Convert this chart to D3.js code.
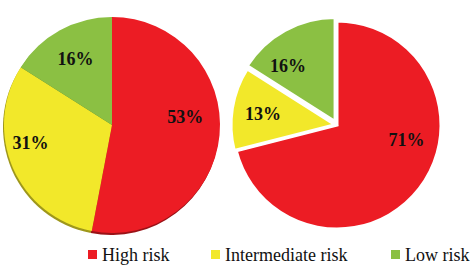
<!DOCTYPE html>
<html>
<head>
<meta charset="utf-8">
<script src="https://cdn.jsdelivr.net/npm/d3@7"></script>
<style>
  body { margin: 0; background: #fff; }
  svg { display: block; }
  text { font-family: 'Liberation Serif', 'Times New Roman', serif; }
</style>
</head>
<body>
<div id="chart"></div>
<script>
/* global d3 */

const categories = [ 'High risk', 'Intermediate risk', 'Low risk' ]
const colors = [ '#ec1c24', '#f2e82a', '#8bc043' ]
const leftValues = [ 53, 31, 16 ]
const rightValues = [ 71, 13, 16 ]

const width = 475
const height = 266

const svg = d3.select('#chart').append('svg').attr('width', width).attr('height', height)

// label nudges to mimic the spreadsheet's "best fit" placement
const leftNudge = [ [ -2, -15 ], [ -12, -12 ], [ 0, 0 ] ]
const rightNudge = [ [ 12, -30 ], [ 0, 0 ], [ -12, 8 ] ]

function drawPie ({ values, cx, cy, r, explode, shadow, nudge }) {
  const pie = d3.pie().sort(null).value(d => d)
  const arcs = pie(values)
  const arc = d3.arc().innerRadius(0).outerRadius(r)
  const labelArc = d3.arc().innerRadius(r * 0.7).outerRadius(r * 0.7)
  const g = svg.append('g').attr('transform', `translate(${cx},${cy})`)

  const offset = (d, i) => {
    const k = explode[i]
    const a = (d.startAngle + d.endAngle) / 2
    return [ Math.sin(a) * k, -Math.cos(a) * k ]
  }

  if (shadow) {
    g.append('g').attr('transform', 'translate(-1,2)')
      .selectAll('path')
      .data(arcs)
      .join('path')
      .attr('d', arc)
      .attr('fill', (d, i) => d3.color(colors[i]).darker(1.2))
  }

  g.append('g')
    .selectAll('path')
    .data(arcs)
    .join('path')
    .attr('d', arc)
    .attr('transform', (d, i) => `translate(${offset(d, i)})`)
    .attr('fill', (d, i) => colors[i])
    .attr('stroke', shadow ? 'none' : '#fff')
    .attr('stroke-width', shadow ? 0 : 3)

  g.append('g')
    .selectAll('text')
    .data(arcs)
    .join('text')
    .attr('transform', (d, i) => {
      const [ x, y ] = labelArc.centroid(d)
      const [ ox, oy ] = offset(d, i)
      return `translate(${x + ox + nudge[i][0]},${y + oy + nudge[i][1]})`
    })
    .attr('text-anchor', 'middle')
    .attr('dy', '0.35em')
    .attr('font-size', 18)
    .attr('font-weight', 'bold')
    .attr('fill', '#111')
    .text(d => d.data + '%')
}

drawPie({ values: leftValues, cx: 112, cy: 125, r: 108, explode: [ 0, 0, 0 ], shadow: true, nudge: leftNudge })
drawPie({ values: rightValues, cx: 337, cy: 125, r: 104, explode: [ 0, 2, 4 ], shadow: false, nudge: rightNudge })

// legend
const legendX = [ 88, 211, 391 ]
const legend = svg.append('g')
  .selectAll('g')
  .data(categories)
  .join('g')
  .attr('transform', (d, i) => `translate(${legendX[i]},250)`)

legend.append('rect').attr('width', 9).attr('height', 9).attr('fill', (d, i) => colors[i])
legend.append('text')
  .attr('x', 14)
  .attr('y', 11)
  .attr('font-size', 18)
  .attr('fill', '#111')
  .text(d => d)
</script>
</body>
</html>
